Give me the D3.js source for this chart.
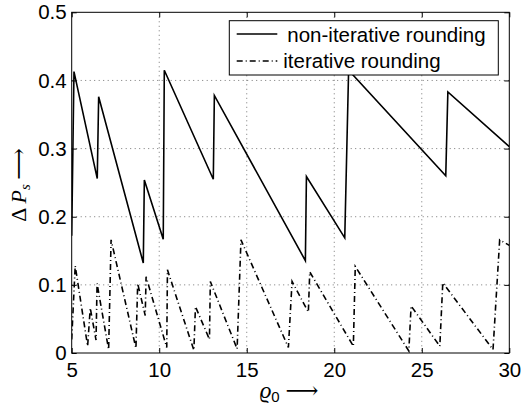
<!DOCTYPE html>
<html>
<head>
<meta charset="utf-8">
<script src="https://cdn.jsdelivr.net/npm/d3@7"></script>
<style>
  html, body { margin: 0; padding: 0; background: #fff; }
  svg { display: block; }
  text { font-family: "Liberation Sans", Arial, Helvetica, sans-serif; }
</style>
</head>
<body>
<svg id="chart" width="522" height="405"></svg>
<script>
// ---- data ----
const xTicks = [5, 10, 15, 20, 25, 30];
const yTicks = [0, 0.1, 0.2, 0.3, 0.4, 0.5];
const yTickLabels = ["0", "0.1", "0.2", "0.3", "0.4", "0.5"];
const seriesNames = ["non-iterative rounding", "iterative rounding"];

const nonIterRho = [5.00, 5.13, 6.46, 6.54, 9.09, 9.15, 10.23, 10.29, 13.09, 13.15, 18.35, 18.41, 20.60, 20.82, 26.37, 26.49, 30.00];
const nonIterVal = [0.172, 0.413, 0.256, 0.376, 0.132, 0.254, 0.167, 0.415, 0.255, 0.378, 0.1355, 0.259, 0.169, 0.415, 0.260, 0.383, 0.303];

const iterRho = [5.00, 5.20, 5.91, 6.06, 6.39, 6.45, 7.11, 7.25, 8.67, 8.77, 9.20, 9.25, 10.43, 10.47, 11.98, 12.07, 12.87, 12.92, 14.45, 14.67, 17.38, 17.59, 18.52, 18.60, 21.09, 21.20, 24.26, 24.39, 26.03, 26.20, 29.07, 29.45, 30.00];
const iterVal = [0.020, 0.128, 0.010, 0.066, 0.019, 0.102, 0.005, 0.166, 0.007, 0.102, 0.055, 0.112, 0.008, 0.122, 0.004, 0.068, 0.020, 0.105, 0.006, 0.166, 0.008, 0.105, 0.060, 0.119, 0.010, 0.127, 0.003, 0.069, 0.010, 0.103, 0.005, 0.166, 0.158];

// ---- layout ----
const svg = d3.select("#chart");
const L = 71.7, R = 509.3, T = 12.3, B = 353;
const x = d3.scaleLinear().domain([5, 30]).range([L, R]);
const y = d3.scaleLinear().domain([0, 0.5]).range([B, T]);

// grid
const grid = svg.append("g");
grid.selectAll("line.gx").data(xTicks.slice(1, -1)).join("line")
  .attr("x1", d => x(d)).attr("x2", d => x(d)).attr("y1", T).attr("y2", B)
  .attr("stroke", "#777").attr("stroke-width", 1).attr("stroke-dasharray", "1,3.5");
grid.selectAll("line.gy").data(yTicks.slice(1, -1)).join("line")
  .attr("y1", d => y(d)).attr("y2", d => y(d)).attr("x1", L).attr("x2", R)
  .attr("stroke", "#777").attr("stroke-width", 1).attr("stroke-dasharray", "1,3.5");

// axes
const fs = 20.5;
const xAxis = d3.axisBottom(x).tickValues(xTicks).tickSizeInner(-5).tickSizeOuter(0).tickPadding(9.5);
const gx = svg.append("g").attr("transform", `translate(0,${B})`).call(xAxis);
gx.select(".domain").remove();
gx.selectAll("text").attr("font-size", fs).attr("fill", "#000")
  .style("font-family", '"Liberation Sans", Arial, sans-serif');
gx.selectAll("line").attr("stroke", "#000");

const yAxis = d3.axisLeft(y).tickValues(yTicks).tickFormat((d, i) => yTickLabels[i])
  .tickSizeInner(-5).tickSizeOuter(0).tickPadding(5);
const gy = svg.append("g").attr("transform", `translate(${L},0)`).call(yAxis);
gy.select(".domain").remove();
gy.selectAll("text").attr("font-size", fs).attr("fill", "#000")
  .style("font-family", '"Liberation Sans", Arial, sans-serif');
gy.selectAll("line").attr("stroke", "#000");

// top & right ticks
const xTop = d3.axisTop(x).tickValues(xTicks).tickSizeInner(-5).tickSizeOuter(0).tickFormat("");
const gxt = svg.append("g").attr("transform", `translate(0,${T})`).call(xTop);
gxt.select(".domain").remove();
gxt.selectAll("line").attr("stroke", "#000");
const yRight = d3.axisRight(y).tickValues(yTicks).tickSizeInner(-5).tickSizeOuter(0).tickFormat("");
const gyr = svg.append("g").attr("transform", `translate(${R},0)`).call(yRight);
gyr.select(".domain").remove();
gyr.selectAll("line").attr("stroke", "#000");

// frame
svg.append("rect").attr("x", L).attr("y", T).attr("width", R - L).attr("height", B - T)
  .attr("fill", "none").attr("stroke", "#000").attr("stroke-width", 1);

// lines
const line = d3.line().x(d => x(d[0])).y(d => y(d[1]));
svg.append("clipPath").attr("id", "clip").append("rect")
  .attr("x", L).attr("y", T).attr("width", R - L).attr("height", B - T);
const plot = svg.append("g").attr("clip-path", "url(#clip)");
plot.append("path").datum(d3.zip(nonIterRho, nonIterVal)).attr("d", line)
  .attr("fill", "none").attr("stroke", "#000").attr("stroke-width", 1.6).attr("stroke-linejoin", "miter");
plot.append("path").datum(d3.zip(iterRho, iterVal)).attr("d", line)
  .attr("fill", "none").attr("stroke", "#000").attr("stroke-width", 1.6)
  .attr("stroke-dasharray", "6,3,1,3");

// legend
const lg = svg.append("g");
lg.append("rect").attr("x", 229.3).attr("y", 20.7).attr("width", 269).attr("height", 54.3)
  .attr("fill", "#fff").attr("stroke", "#000").attr("stroke-width", 1);
lg.append("line").attr("x1", 236.7).attr("x2", 277.3).attr("y1", 34).attr("y2", 34)
  .attr("stroke", "#000").attr("stroke-width", 1.6);
lg.append("line").attr("x1", 236.7).attr("x2", 277.3).attr("y1", 61).attr("y2", 61)
  .attr("stroke", "#000").attr("stroke-width", 1.6).attr("stroke-dasharray", "6,3,1,3");
lg.append("text").attr("x", 287.3).attr("y", 41.5).attr("font-size", fs).text(seriesNames[0]);
lg.append("text").attr("x", 283.3).attr("y", 68.3).attr("font-size", fs).text(seriesNames[1]);

// axis labels
const serif = '"Liberation Serif", "DejaVu Serif", "Times New Roman", serif';
const xl = svg.append("text").attr("x", 289).attr("y", 398).attr("text-anchor", "middle")
  .style("font-family", serif).attr("font-size", 23);
xl.append("tspan").attr("font-style", "italic").text("ϱ");
xl.append("tspan").attr("font-size", 15).attr("dy", 4).style("font-family", '"Liberation Sans", Arial, sans-serif').text("0");
xl.append("tspan").attr("dy", -4).text(" \u27F6");

const yl = svg.append("text").attr("transform", "translate(26,185) rotate(-90)")
  .attr("text-anchor", "middle").style("font-family", serif).attr("font-size", 22);
yl.append("tspan").text("\u0394 ");
yl.append("tspan").attr("font-style", "italic").text("P");
yl.append("tspan").attr("font-size", 15).attr("dy", 4).attr("font-style", "italic").text("s");
yl.append("tspan").attr("dy", -4).text("\u2009\u27F6");
</script>
</body>
</html>
